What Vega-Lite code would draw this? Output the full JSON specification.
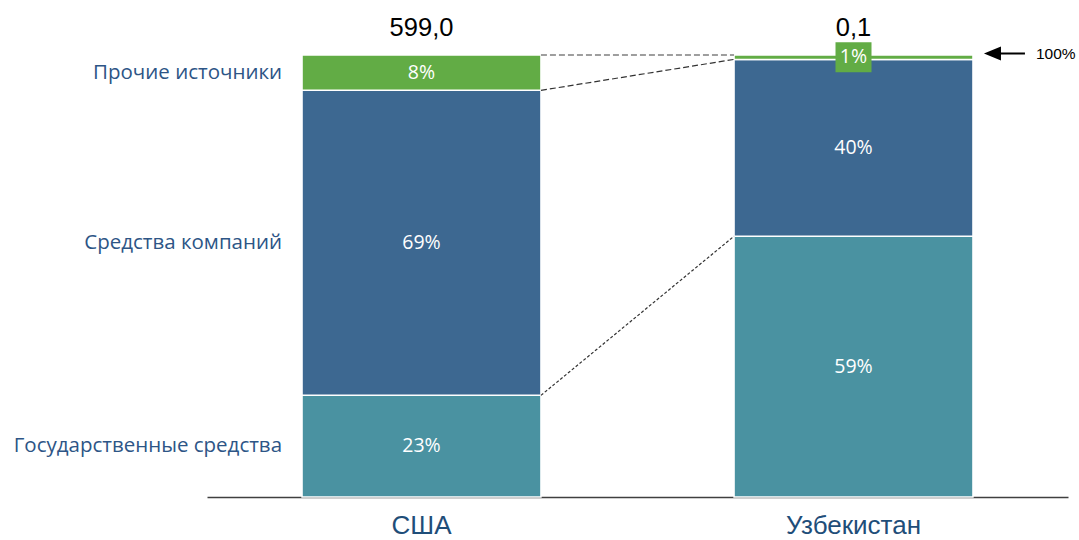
{
  "$schema": "https://vega.github.io/schema/vega-lite/v6.json",
  "width": 861,
  "height": 442,
  "autosize": "none",
  "padding": {"left": 207, "top": 55, "right": 11, "bottom": 43},
  "background": "white",
  "config": {"view": {"stroke": null}},
  "datasets": {
    "shares": [
      {"country": "США", "source": "Государственные средства", "rank": 1, "value": 23},
      {"country": "США", "source": "Средства компаний", "rank": 2, "value": 69},
      {"country": "США", "source": "Прочие источники", "rank": 3, "value": 8},
      {"country": "Узбекистан", "source": "Государственные средства", "rank": 1, "value": 59},
      {"country": "Узбекистан", "source": "Средства компаний", "rank": 2, "value": 40},
      {"country": "Узбекистан", "source": "Прочие источники", "rank": 3, "value": 1}
    ],
    "totals": [
      {"country": "США", "total": "599,0"},
      {"country": "Узбекистан", "total": "0,1"}
    ],
    "links": [
      {"from": "США", "to": "Узбекистан", "yFrom": 100, "yTo": 100, "kind": "top"},
      {"from": "США", "to": "Узбекистан", "yFrom": 92, "yTo": 99, "kind": "mid"},
      {"from": "США", "to": "Узбекистан", "yFrom": 23, "yTo": 59, "kind": "low"}
    ],
    "marker": [{"country": "Узбекистан", "level": 100, "text": "100%"}]
  },
  "layer": [
    {
      "data": {"name": "shares"},
      "transform": [
        {"stack": "value", "groupby": ["country"], "sort": [{"field": "rank"}], "as": ["v0", "v1"]}
      ],
      "mark": {"type": "bar", "stroke": "white", "strokeWidth": 1.5},
      "encoding": {
        "x": {
          "field": "country", "type": "nominal", "sort": ["США", "Узбекистан"],
          "scale": {"domain": ["США", "Узбекистан"], "paddingInner": 0.447, "paddingOuter": 0.22},
          "axis": {
            "title": null, "orient": "bottom", "domainColor": "#404040", "domainWidth": 1.5,
            "ticks": false, "labelAngle": 0, "labelFont": "Liberation Sans", "labelFontSize": 26,
            "labelColor": "#1F4E79", "labelPadding": 15
          }
        },
        "y": {"field": "v0", "type": "quantitative", "scale": {"domain": [0, 100], "nice": false}, "axis": null},
        "y2": {"field": "v1"},
        "color": {
          "field": "source", "type": "nominal", "legend": null,
          "scale": {
            "domain": ["Государственные средства", "Средства компаний", "Прочие источники"],
            "range": ["#4A92A1", "#3D6891", "#62AC45"]
          }
        }
      }
    },
    {
      "data": {"name": "links"},
      "transform": [{"filter": "datum.kind == 'top'"}],
      "mark": {"type": "rule", "color": "#7F7F7F", "strokeWidth": 1.3, "strokeDash": [6, 3]},
      "encoding": {
        "x": {"field": "from", "type": "nominal", "bandPosition": 1},
        "x2": {"field": "to", "bandPosition": 0},
        "y": {"field": "yFrom", "type": "quantitative"},
        "y2": {"field": "yTo"}
      }
    },
    {
      "data": {"name": "links"},
      "transform": [{"filter": "datum.kind == 'mid'"}],
      "mark": {"type": "rule", "color": "#333333", "strokeWidth": 1.2, "strokeDash": [6, 3]},
      "encoding": {
        "x": {"field": "from", "type": "nominal", "bandPosition": 1},
        "x2": {"field": "to", "bandPosition": 0},
        "y": {"field": "yFrom", "type": "quantitative"},
        "y2": {"field": "yTo"}
      }
    },
    {
      "data": {"name": "links"},
      "transform": [{"filter": "datum.kind == 'low'"}],
      "mark": {"type": "rule", "color": "#333333", "strokeWidth": 1.2, "strokeDash": [3, 2]},
      "encoding": {
        "x": {"field": "from", "type": "nominal", "bandPosition": 1},
        "x2": {"field": "to", "bandPosition": 0},
        "y": {"field": "yFrom", "type": "quantitative"},
        "y2": {"field": "yTo"}
      }
    },
    {
      "data": {"name": "shares"},
      "transform": [
        {"stack": "value", "groupby": ["country"], "sort": [{"field": "rank"}], "as": ["v0", "v1"]},
        {"calculate": "(datum.v0 + datum.v1) / 2", "as": "mid"},
        {"filter": "datum.value < 5 && datum.country == 'Узбекистан'"}
      ],
      "mark": {"type": "point", "shape": "M-1.2,-1L1.2,-1L1.2,1L-1.2,1Z", "size": 900, "filled": true, "fill": "#62AC45", "opacity": 1, "strokeWidth": 0},
      "encoding": {
        "x": {"field": "country", "type": "nominal"},
        "y": {"field": "mid", "type": "quantitative"}
      }
    },
    {
      "data": {"name": "shares"},
      "transform": [
        {"stack": "value", "groupby": ["country"], "sort": [{"field": "rank"}], "as": ["v0", "v1"]},
        {"calculate": "(datum.v0 + datum.v1) / 2", "as": "mid"},
        {"calculate": "datum.value + '%'", "as": "pct"}
      ],
      "mark": {"type": "text", "color": "white", "font": "Open Sans", "fontSize": 19.5, "baseline": "middle", "align": "center"},
      "encoding": {
        "x": {"field": "country", "type": "nominal"},
        "y": {"field": "mid", "type": "quantitative"},
        "text": {"field": "pct"}
      }
    },
    {
      "data": {"name": "shares"},
      "transform": [
        {"stack": "value", "groupby": ["country"], "sort": [{"field": "rank"}], "as": ["v0", "v1"]},
        {"calculate": "(datum.v0 + datum.v1) / 2", "as": "mid"},
        {"filter": "datum.country == 'США'"}
      ],
      "mark": {"type": "text", "color": "#2D5586", "font": "Open Sans", "fontSize": 20.5, "baseline": "middle", "align": "right", "dx": -20},
      "encoding": {
        "x": {"field": "country", "type": "nominal", "bandPosition": 0},
        "y": {"field": "mid", "type": "quantitative"},
        "text": {"field": "source"}
      }
    },
    {
      "data": {"name": "totals"},
      "mark": {"type": "text", "color": "black", "font": "Liberation Sans", "fontSize": 25.5, "baseline": "middle", "align": "center", "dy": -27},
      "encoding": {
        "x": {"field": "country", "type": "nominal"},
        "y": {"datum": 100, "type": "quantitative"},
        "text": {"field": "total"}
      }
    },
    {
      "data": {"name": "marker"},
      "mark": {"type": "point", "shape": "M-1,0L-0.17,-0.34L-0.17,-0.05L1,-0.05L1,0.05L-0.17,0.05L-0.17,0.34Z", "size": 1681, "filled": true, "fill": "black", "opacity": 1, "strokeWidth": 0, "xOffset": 31.5, "yOffset": -1.5},
      "encoding": {
        "x": {"field": "country", "type": "nominal", "bandPosition": 1},
        "y": {"field": "level", "type": "quantitative"}
      }
    },
    {
      "data": {"name": "marker"},
      "mark": {"type": "text", "color": "black", "font": "Liberation Sans", "fontSize": 15.5, "baseline": "middle", "align": "left", "dx": 63, "dy": -1},
      "encoding": {
        "x": {"field": "country", "type": "nominal", "bandPosition": 1},
        "y": {"field": "level", "type": "quantitative"},
        "text": {"field": "text"}
      }
    }
  ]
}
